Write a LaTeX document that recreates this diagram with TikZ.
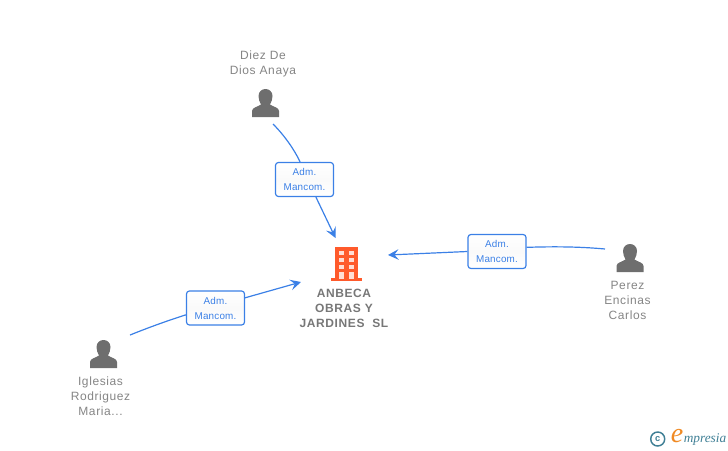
\documentclass[tikz,border=0pt]{standalone}
\usepackage{fontspec}
\setmainfont{Liberation Sans}
\newfontfamily\lblfont[LetterSpace=5]{Liberation Sans}
\newfontfamily\boxfont[LetterSpace=2]{Liberation Sans}
\newfontfamily\logofont{Liberation Serif}
\usetikzlibrary{arrows.meta,calc}
\definecolor{linkblue}{HTML}{3B80E6}
\definecolor{icongray}{HTML}{6E6E6E}
\definecolor{textgray}{HTML}{858585}
\definecolor{boldgray}{HTML}{777777}
\definecolor{bldorange}{HTML}{FF5A2B}
\definecolor{copyteal}{HTML}{3F7F95}
\definecolor{emporange}{HTML}{F08A24}
\tikzset{
  x=0.75pt,y=-0.75pt,
  person/.style={inner sep=0pt,minimum width=20.25pt,minimum height=21pt},
  personlabel/.style={align=center,text=textgray,font=\lblfont\fontsize{9}{11.25}\selectfont,inner sep=0pt},
  orglabel/.style={align=center,text=boldgray,font=\lblfont\bfseries\fontsize{9}{11.25}\selectfont,inner sep=0pt},
  rolebox/.style={draw=linkblue,line width=0.9pt,rounded corners=2.2pt,top color=white,bottom color=white,middle color=white!98!black,
    text=linkblue,align=center,minimum width=43.5pt,minimum height=25.5pt,inner sep=0pt,font=\boxfont\fontsize{7.4}{11.25}\selectfont},
  link/.style={draw=linkblue,line width=0.9pt},
  linkarrow/.style={link,-{Stealth[length=8pt,width=8pt,inset=3.2pt]}},
}
\newcommand{\personicon}[1]{%
  \fill[icongray] ($(#1)+(-13.5,14)$) -- ($(#1)+(-13.5,8)$)
    .. controls ($(#1)+(-13.5,4.5)$) and ($(#1)+(-8,4)$) .. ($(#1)+(-4.5,1.5)$)
    .. controls ($(#1)+(-6,-1)$) and ($(#1)+(-7,-4)$) .. ($(#1)+(-7,-7)$)
    .. controls ($(#1)+(-7,-11.5)$) and ($(#1)+(-3.5,-14)$) .. ($(#1)+(0,-14)$)
    .. controls ($(#1)+(3.5,-14)$) and ($(#1)+(7,-11.5)$) .. ($(#1)+(7,-7)$)
    .. controls ($(#1)+(7,-4)$) and ($(#1)+(6,-1)$) .. ($(#1)+(4.5,1.5)$)
    .. controls ($(#1)+(8,4)$) and ($(#1)+(13.5,4.5)$) .. ($(#1)+(13.5,8)$)
    -- ($(#1)+(13.5,14)$) -- cycle;}
\begin{document}
\begin{tikzpicture}
\useasboundingbox (0,0) rectangle (728,450);
% person anchors
\node[person] (diez) at (265.5,103) {};
\node[person] (perez) at (630,258) {};
\node[person] (iglesias) at (103.5,354) {};
\personicon{diez}
\personicon{perez}
\personicon{iglesias}
% labels
\node[personlabel] (diezlabel) at (263,63.5) {Diez De\\Dios Anaya};
\node[personlabel] (perezlabel) at (627.5,300.5) {Perez\\Encinas\\Carlos};
\node[personlabel] (iglesiaslabel) at (100.5,396.5) {Iglesias\\Rodriguez\\Maria...};
\node[orglabel] (orglabel) at (344,308) {ANBECA\\OBRAS Y\\JARDINES\ \ SL};
% building
\node[inner sep=0pt,minimum width=23.25pt,minimum height=25.5pt] (org) at (346.5,264) {};
\fill[bldorange] (335,247) rectangle (358,279);
\fill[bldorange] (331,278) rectangle (362,281);
\foreach \yy in {251,258,265}{
  \foreach \xx in {339,349}{
    \fill[white!80!bldorange] (\xx,\yy) rectangle ++(5,4);
  }
}
\foreach \xx in {339,349}{
  \fill[white!80!bldorange] (\xx,272) rectangle ++(5,6.5);
}
% role boxes
\node[rolebox] (b1) at (304.5,179.5) {Adm.\\Mancom.};
\node[rolebox] (b2) at (497,251.5) {Adm.\\Mancom.};
\node[rolebox] (b3) at (215.5,308) {Adm.\\Mancom.};
% connector ends
\coordinate (s1) at (273,124);
\coordinate (t1) at (335.5,238);
\coordinate (s2) at (605,249);
\coordinate (t2) at (388,255);
\coordinate (s3) at (130,335);
\coordinate (t3) at (301,282);
\draw[link] (s1) .. controls (284,135) and (294,149) .. (b1.104);
\draw[linkarrow] (b1.-57) -- (t1);
\draw[link] (s2) .. controls (578,246.5) and (552,246.5) .. (b2.8);
\draw[linkarrow] (b2.west) -- (t2);
\draw[link] (s3) .. controls (150,327) and (168,320.5) .. (b3.193);
\draw[linkarrow] (b3.19) -- (t3);
% logo
\node[draw=copyteal,line width=1.1pt,circle,minimum size=10.5pt,inner sep=0pt,text=copyteal,font=\bfseries\fontsize{7}{7}\selectfont] (copy) at (657.7,439) {c};
\node[inner sep=0pt,text=emporange,font=\logofont\itshape\fontsize{21}{21}\selectfont] (e) at (677,436.5) {e};
\node[inner sep=0pt,text=copyteal,font=\logofont\itshape\fontsize{10}{10}\selectfont,anchor=west] (mp) at (683.5,439.5) {mpresia};
\end{tikzpicture}
\end{document}
